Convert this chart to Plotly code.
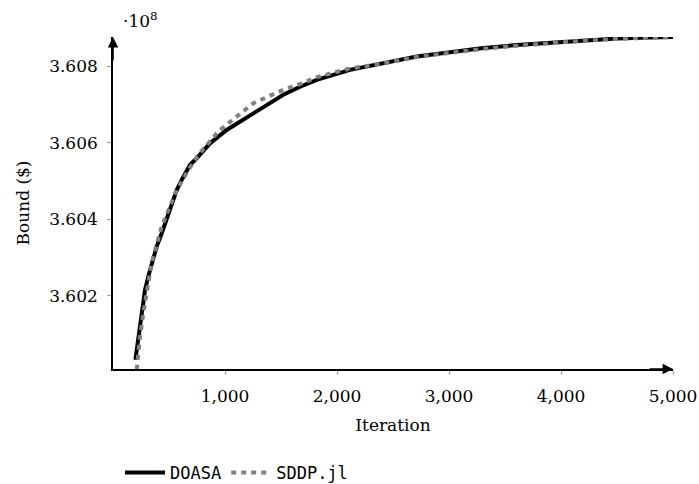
import plotly.graph_objects as go

# ---- data (bound in units of 1e8 $) ----
doasa_iter = [200, 256, 286, 315, 360, 390, 435, 479, 524, 569, 613, 688, 747, 821, 866,
              1015, 1223, 1342, 1521, 1670, 1819, 2116, 2413, 2712, 3009, 3306, 3604,
              3902, 4199, 4497, 4795, 5000]
doasa_bound = [3.60033, 3.60163, 3.60216, 3.60251, 3.60303, 3.60329, 3.60364, 3.60399,
               3.60434, 3.60477, 3.60503, 3.60543, 3.60560, 3.60582, 3.60599, 3.60634,
               3.60673, 3.60695, 3.60726, 3.60747, 3.60765, 3.60791, 3.60808, 3.60826,
               3.60837, 3.60848, 3.60856, 3.60862, 3.60868, 3.60873, 3.60876, 3.60877]

sddp_iter = [212, 241, 271, 301, 330, 345, 434, 494, 569, 672, 762, 851, 940, 1253, 1402,
             1521, 1670, 1819, 2116, 2413, 2712, 3009, 3306, 3604, 3902, 4199, 4497, 4795, 5000]
sddp_bound = [3.60007, 3.60094, 3.60155, 3.60207, 3.60268, 3.60286, 3.60381, 3.60425,
              3.60477, 3.60529, 3.60569, 3.60599, 3.60630, 3.60704, 3.60723, 3.60739,
              3.60754, 3.60772, 3.60795, 3.60808, 3.60825, 3.60836, 3.60846, 3.60854,
              3.60861, 3.60867, 3.60872, 3.60875, 3.60877]

x_ticks = [1000, 2000, 3000, 4000, 5000]
x_ticklabels = ["1,000", "2,000", "3,000", "4,000", "5,000"]
y_ticks = [3.602, 3.604, 3.606, 3.608]
y_ticklabels = ["3.602", "3.604", "3.606", "3.608"]
x_range = [0, 5000]
y_range = [3.60009, 3.60877]

SERIF = "DejaVu Serif"
MONO = "DejaVu Sans Mono"
TICKCOL = "#a0a0a0"
FS = 17

fig = go.Figure()
fig.add_trace(go.Scatter(x=doasa_iter, y=doasa_bound, mode="lines", name="DOASA",
                         line=dict(color="black", width=4)))
fig.add_trace(go.Scatter(x=sddp_iter, y=sddp_bound, mode="lines", name="SDDP.jl",
                         line=dict(color="#808080", width=4, dash="5px,5px")))

fig.update_layout(
    width=699, height=484,
    margin=dict(l=113, r=26, t=37, b=115, autoexpand=False),
    paper_bgcolor="white", plot_bgcolor="white",
    font=dict(family=SERIF, size=FS, color="black"),
    showlegend=True,
    legend=dict(orientation="h", x=0.0125, xanchor="left", y=-0.313, yanchor="middle",
                font=dict(family=MONO, size=FS, color="black"),
                bgcolor="rgba(0,0,0,0)", itemwidth=40),
    xaxis=dict(range=x_range, showgrid=False, zeroline=False,
               showline=True, linecolor="black", linewidth=1.6,
               ticks="outside", ticklen=4, tickwidth=0.8, tickcolor=TICKCOL,
               tickvals=x_ticks, ticktext=x_ticklabels, ticklabelstandoff=7,
               tickfont=dict(family=SERIF, size=FS),
               title=dict(text="Iteration", standoff=14, font=dict(family=SERIF, size=FS)),
               automargin=False),
    xaxis2=dict(range=x_range, overlaying="x", anchor="y", side="bottom",
                showgrid=False, zeroline=False, showline=False,
                ticks="inside", ticklen=4, tickwidth=0.8, tickcolor=TICKCOL,
                tickvals=x_ticks, showticklabels=False),
    yaxis=dict(range=y_range, showgrid=False, zeroline=False,
               showline=True, linecolor="black", linewidth=1.6,
               ticks="outside", ticklen=4, tickwidth=0.8, tickcolor=TICKCOL,
               tickvals=y_ticks, ticktext=y_ticklabels, ticklabelstandoff=6,
               tickfont=dict(family=SERIF, size=FS),
               title=dict(text="Bound ($)", standoff=15, font=dict(family=SERIF, size=FS)),
               automargin=False),
    yaxis2=dict(range=y_range, overlaying="y", anchor="x", side="left",
                showgrid=False, zeroline=False, showline=False,
                ticks="inside", ticklen=4, tickwidth=0.8, tickcolor=TICKCOL,
                tickvals=y_ticks, showticklabels=False),
)

# axis arrowheads
fig.add_annotation(xref="paper", yref="paper", x=1, y=0, ax=-25, ay=0,
                   showarrow=True, arrowhead=2, arrowsize=1.3, arrowwidth=1.6,
                   arrowcolor="black", text="")
fig.add_annotation(xref="paper", yref="paper", x=0, y=1, ax=0, ay=25,
                   showarrow=True, arrowhead=2, arrowsize=1.3, arrowwidth=1.6,
                   arrowcolor="black", text="")
# scale factor label
fig.add_annotation(xref="paper", yref="paper", x=0.014, y=1.051, xanchor="left",
                   yanchor="middle", showarrow=False, text="·10<sup>8</sup>",
                   font=dict(family=SERIF, size=FS, color="black"))

fig.write_html("out.html", config={"displayModeBar": False},
               post_script="document.body.style.margin='0px';")
